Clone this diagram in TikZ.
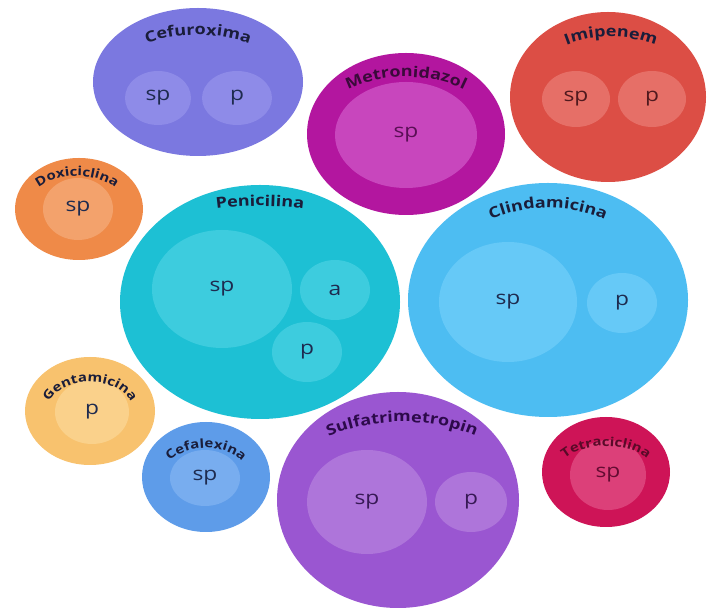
\documentclass[tikz,border=0pt]{standalone}
\usepackage{fontspec}
\setmainfont{Open Sans}
\newfontfamily\labfont[FakeStretch=1.2]{Open Sans}
\usetikzlibrary{shapes.geometric,decorations.text}

\definecolor{cefO}{HTML}{7B78E0}\definecolor{cefI}{HTML}{8E8BE8}
\definecolor{metO}{HTML}{B3169F}\definecolor{metI}{HTML}{C846BD}
\definecolor{impO}{HTML}{DC4E45}\definecolor{impI}{HTML}{E66F67}
\definecolor{doxO}{HTML}{EF8A48}\definecolor{doxI}{HTML}{F3A26C}
\definecolor{penO}{HTML}{1DC0D4}\definecolor{penI}{HTML}{3DCCDE}
\definecolor{cliO}{HTML}{4DBDF2}\definecolor{cliI}{HTML}{66C9F7}
\definecolor{genO}{HTML}{F8C26E}\definecolor{genI}{HTML}{FAD18B}
\definecolor{celO}{HTML}{5E9CE9}\definecolor{celI}{HTML}{78ADEF}
\definecolor{sulO}{HTML}{9A56D1}\definecolor{sulI}{HTML}{AE75DA}
\definecolor{tetO}{HTML}{CE1457}\definecolor{tetI}{HTML}{DC4079}
\definecolor{navy}{HTML}{1E2B4F}
\definecolor{labc}{HTML}{1A1D3A}
\definecolor{metT}{HTML}{5A0F55}\definecolor{metL}{HTML}{3A0A3A}
\definecolor{impT}{HTML}{50191E}
\definecolor{sulT}{HTML}{371955}\definecolor{sulL}{HTML}{2D0A4B}
\definecolor{tetT}{HTML}{640C32}\definecolor{tetL}{HTML}{5A0A28}

\tikzset{
  bub/.style={ellipse, inner sep=0pt, draw=none},
  intext/.style={font=\labfont\fontsize{19}{19}\selectfont, text=navy},
}
% arc label: cx, cy, rx, ry, size, color, text
\newcommand\arclab[7]{%
  \path[decorate, decoration={text along path, text align=center, text color=#6,
     text={|\labfont\bfseries\fontsize{#5}{#5}\selectfont|#7}}]
     (#1-#3,#2) arc[start angle=180, end angle=0, x radius=#3, y radius=#4];}

\begin{document}
\begin{tikzpicture}[x=1pt,y=1pt]
\useasboundingbox (0,0) rectangle (709,610);
\fill[white] (0,0) rectangle (709,610);

% Cefuroxima
\node[bub, fill=cefO, minimum width=210pt, minimum height=148pt] (cef) at (198,528) {};
\node[bub, fill=cefI, minimum width=66pt, minimum height=54pt, intext] (cefsp) at (158,512) {sp};
\node[bub, fill=cefI, minimum width=70pt, minimum height=54pt, intext] (cefp) at (237,512) {p};
\arclab{198}{528}{90}{47}{15}{labc}{Cefuroxima}

% Metronidazol
\node[bub, fill=metO, minimum width=198pt, minimum height=162pt] (met) at (406,476) {};
\node[bub, fill=metI, minimum width=142pt, minimum height=106pt, intext, text=metT] (metsp) at (406,475) {sp};
\arclab{406}{476}{92}{57}{15}{metL}{Metronidazol}

% Imipenem
\node[bub, fill=impO, minimum width=196pt, minimum height=170pt] (imp) at (608,513) {};
\node[bub, fill=impI, minimum width=68pt, minimum height=56pt, intext, text=impT] (impsp) at (576,511) {sp};
\node[bub, fill=impI, minimum width=68pt, minimum height=56pt, intext, text=impT] (impp) at (652,511) {p};
\arclab{611}{513}{88}{60}{15}{labc}{Imipenem}

% Doxiciclina
\node[bub, fill=doxO, minimum width=128pt, minimum height=102pt] (dox) at (79,401) {};
\node[bub, fill=doxI, minimum width=70pt, minimum height=62pt, intext] (doxsp) at (78,401) {sp};
\arclab{77}{401}{50}{33}{12.5}{labc}{Doxiciclina}

% Penicilina
\node[bub, fill=penO, minimum width=280pt, minimum height=234pt] (pen) at (260,308) {};
\node[bub, fill=penI, minimum width=140pt, minimum height=118pt, intext] (pensp) at (222,321) {sp};
\node[bub, fill=penI, minimum width=70pt, minimum height=60pt, intext] (pena) at (335,320) {a};
\node[bub, fill=penI, minimum width=70pt, minimum height=60pt, intext] (penp) at (307,258) {p};
\arclab{260}{308}{180}{96}{15}{labc}{Penicilina}

% Clindamicina
\node[bub, fill=cliO, minimum width=280pt, minimum height=234pt] (cli) at (548,310) {};
\node[bub, fill=cliI, minimum width=138pt, minimum height=120pt, intext] (clisp) at (508,308) {sp};
\node[bub, fill=cliI, minimum width=70pt, minimum height=60pt, intext] (clip) at (622,307) {p};
\arclab{548}{310}{117}{92}{15}{labc}{Clindamicina}

% Gentamicina
\node[bub, fill=genO, minimum width=130pt, minimum height=108pt] (gen) at (90,199) {};
\node[bub, fill=genI, minimum width=74pt, minimum height=64pt, intext] (genp) at (92,198) {p};
\arclab{90}{199}{43}{29}{12.5}{labc}{Gentamicina}

% Cefalexina
\node[bub, fill=celO, minimum width=128pt, minimum height=110pt] (cel) at (206,133) {};
\node[bub, fill=celI, minimum width=70pt, minimum height=56pt, intext] (celsp) at (205,132) {sp};
\arclab{206}{133}{43}{29}{12.5}{labc}{Cefalexina}

% Sulfatrimetropin
\node[bub, fill=sulO, minimum width=242pt, minimum height=216pt] (sul) at (398,110) {};
\node[bub, fill=sulI, minimum width=120pt, minimum height=104pt, intext, text=sulT] (sulsp) at (367,108) {sp};
\node[bub, fill=sulI, minimum width=72pt, minimum height=60pt, intext, text=sulT] (sulp) at (471,108) {p};
\arclab{402}{110}{127}{78}{15}{sulL}{Sulfatrimetropin}

% Tetraciclina
\node[bub, fill=tetO, minimum width=128pt, minimum height=110pt] (tet) at (606,138) {};
\node[bub, fill=tetI, minimum width=76pt, minimum height=70pt, intext, text=tetT] (tetsp) at (608,135) {sp};
\arclab{606}{138}{48}{26}{12.5}{tetL}{Tetraciclina}
\end{tikzpicture}
\end{document}
